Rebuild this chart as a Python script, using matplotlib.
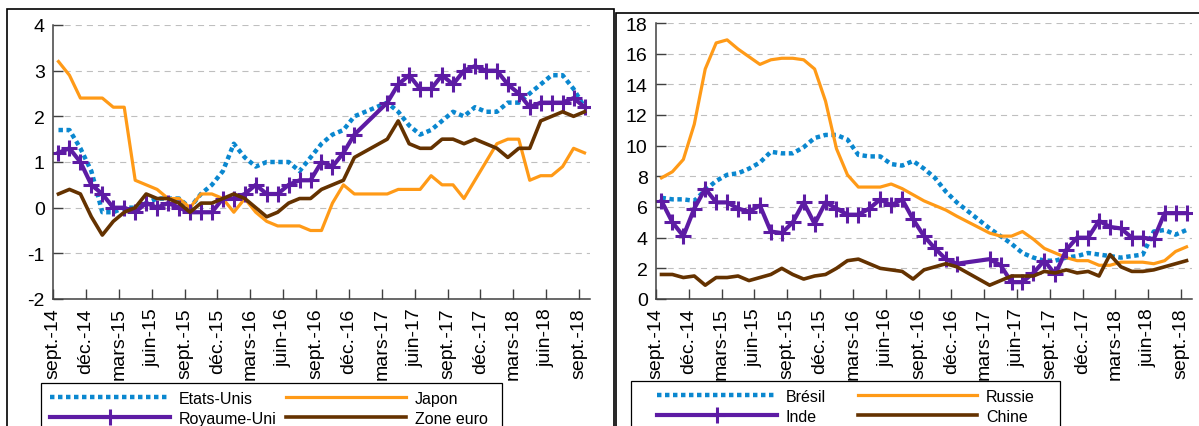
import numpy as np
import matplotlib.pyplot as plt
from matplotlib.patches import Rectangle

plt.rcParams['font.family'] = ['Liberation Sans', 'DejaVu Sans']
plt.rcParams['axes.unicode_minus'] = False

W, H = 1199, 427
nan = np.nan

# ---- données : glissement annuel des prix, sept. 2014 -> sept. 2018 (49 mois) ----
# janv.-17 et févr.-17 absents (la ligne relie déc.-16 à mars-17)
tick_labels = ['sept.-14', 'déc.-14', 'mars-15', 'juin-15', 'sept.-15', 'déc.-15',
               'mars-16', 'juin-16', 'sept.-16', 'déc.-16', 'mars-17', 'juin-17',
               'sept.-17', 'déc.-17', 'mars-18', 'juin-18', 'sept.-18']

etats_unis = [1.7, 1.7, 1.3, 0.8, -0.1, -0.1, 0.0, 0.0, 0.1, 0.2, 0.2, 0.2, 0.0, 0.3,
              0.5, 0.8, 1.4, 1.1, 0.9, 1.0, 1.0, 1.0, 0.8, 1.1, 1.4, 1.6, 1.7, 2.0,
              nan, nan, 2.3, 2.1, 1.8, 1.6, 1.7, 1.9, 2.1, 2.0, 2.2, 2.1, 2.1, 2.3,
              2.3, 2.5, 2.7, 2.9, 2.9, 2.6, 2.2]
japon = [3.2, 2.9, 2.4, 2.4, 2.4, 2.2, 2.2, 0.6, 0.5, 0.4, 0.2, 0.2, 0.0, 0.3,
         0.3, 0.2, -0.1, 0.2, -0.1, -0.3, -0.4, -0.4, -0.4, -0.5, -0.5, 0.1, 0.5, 0.3,
         nan, nan, 0.3, 0.4, 0.4, 0.4, 0.7, 0.5, 0.5, 0.2, 0.6, 1.0, 1.4, 1.5,
         1.5, 0.6, 0.7, 0.7, 0.9, 1.3, 1.2]
royaume_uni = [1.2, 1.3, 1.0, 0.5, 0.3, 0.0, 0.0, -0.1, 0.1, 0.0, 0.1, 0.0, -0.1, -0.1,
               -0.1, 0.2, 0.2, 0.3, 0.5, 0.3, 0.3, 0.5, 0.6, 0.6, 1.0, 0.9, 1.2, 1.6,
               nan, nan, 2.3, 2.7, 2.9, 2.6, 2.6, 2.9, 2.7, 3.0, 3.1, 3.0, 3.0, 2.7,
               2.5, 2.2, 2.3, 2.3, 2.3, 2.4, 2.2]
zone_euro = [0.3, 0.4, 0.3, -0.2, -0.6, -0.3, -0.1, 0.0, 0.3, 0.2, 0.2, 0.1, -0.1, 0.1,
             0.1, 0.2, 0.3, 0.2, 0.0, -0.2, -0.1, 0.1, 0.2, 0.2, 0.4, 0.5, 0.6, 1.1,
             nan, nan, 1.5, 1.9, 1.4, 1.3, 1.3, 1.5, 1.5, 1.4, 1.5, 1.4, 1.3, 1.1,
             1.3, 1.3, 1.9, 2.0, 2.1, 2.0, 2.1]

bresil = [6.6, 6.5, 6.5, 6.4, 7.1, 7.7, 8.1, 8.2, 8.5, 8.9, 9.6, 9.5, 9.5, 9.9,
          10.5, 10.7, 10.7, 10.4, 9.4, 9.3, 9.3, 8.8, 8.7, 9.0, 8.5, 7.9, 7.0, 6.3,
          nan, nan, 4.6, 4.1, 3.6, 3.0, 2.7, 2.5, 2.5, 2.7, 2.8, 3.0, 2.9, 2.8,
          2.7, 2.8, 2.9, 4.4, 4.5, 4.2, 4.5]
russie = [7.9, 8.3, 9.1, 11.4, 15.0, 16.7, 16.9, 16.3, 15.8, 15.3, 15.6, 15.7, 15.7, 15.6,
          15.0, 12.9, 9.8, 8.1, 7.3, 7.3, 7.3, 7.5, 7.2, 6.8, 6.4, 6.1, 5.8, 5.4,
          nan, nan, 4.3, 4.1, 4.1, 4.4, 3.9, 3.3, 3.0, 2.7, 2.5, 2.5, 2.2, 2.2,
          2.4, 2.4, 2.4, 2.3, 2.5, 3.1, 3.4]
inde = [6.4, 5.0, 4.1, 5.9, 7.2, 6.3, 6.3, 5.9, 5.7, 6.1, 4.4, 4.3, 5.0, 6.3,
        4.9, 6.3, 5.9, 5.5, 5.5, 5.9, 6.5, 6.1, 6.5, 5.2, 4.1, 3.3, 2.6, 2.3,
        nan, nan, 2.6, 2.2, 1.1, 1.1, 1.7, 2.5, 1.6, 3.2, 4.0, 4.0, 5.1, 4.7,
        4.6, 4.0, 4.0, 3.9, 5.6, 5.6, 5.6]
chine = [1.6, 1.6, 1.4, 1.5, 0.9, 1.4, 1.4, 1.5, 1.2, 1.4, 1.6, 2.0, 1.6, 1.3,
         1.5, 1.6, 2.0, 2.5, 2.6, 2.3, 2.0, 1.9, 1.8, 1.3, 1.9, 2.1, 2.3, 2.1,
         nan, nan, 0.9, 1.2, 1.5, 1.5, 1.5, 1.8, 1.7, 1.9, 1.7, 1.8, 1.5, 2.9,
         2.1, 1.8, 1.8, 1.9, 2.1, 2.3, 2.5]

BLUE = '#0A87CF'
ORANGE = '#FF9A17'
PURPLE = '#5D1BA4'
BROWN = '#643200'

STYLES = [
    dict(color=BLUE, lw=3.2, linestyle=(0, (1, 0.8)), dash_capstyle='butt'),
    dict(color=ORANGE, lw=2.3),
    dict(color=PURPLE, lw=3.0, marker='+', ms=11, mew=2.2),
    dict(color=BROWN, lw=2.6),
]


def draw_series(ax, values, style):
    y = np.array(values, dtype=float)
    x = np.arange(len(y)) + 0.5
    ok = ~np.isnan(y)
    return ax.plot(x[ok], y[ok], **style)[0]


def style_axes(ax, ymin, ymax, ystep):
    ax.set_xlim(0, 49)
    ax.set_ylim(ymin, ymax)
    ax.set_yticks(np.arange(ymin, ymax + 1, ystep))
    ax.set_xticks(np.arange(0, 49, 3))
    ax.set_xticklabels(tick_labels, rotation=90, fontsize=14)
    ax.tick_params(axis='y', labelsize=14, direction='in', length=7.5, width=1,
                   color='#404040', pad=6)
    ax.tick_params(axis='x', direction='in', length=7.5, width=1, color='#404040', pad=6)
    for side in ['top', 'right']:
        ax.spines[side].set_visible(False)
    for side in ['left', 'bottom']:
        ax.spines[side].set_color('#404040')
        ax.spines[side].set_linewidth(1.1)
    ax.yaxis.grid(True, color='#BFBFBF', linestyle=(0, (5.5, 4.5)), linewidth=0.8)
    ax.set_axisbelow(True)


def add_legend(ax, handles, labels, box_x0, box_x1, box_top, handle_x, colspacing):
    # cadre de la légende (coupé par le bas de l'image)
    fig.add_artist(Rectangle((box_x0 / W, -0.05), (box_x1 - box_x0) / W, 1 - box_top / H + 0.05,
                             transform=fig.transFigure, fill=False, ec='black', lw=0.9))
    leg = ax.legend(handles, labels, ncol=2, loc='upper left',
                    bbox_to_anchor=(handle_x / W, 1 - (box_top + 8) / H),
                    bbox_transform=fig.transFigure,
                    fontsize=11.5, handlelength=7.5, handletextpad=0.55,
                    columnspacing=colspacing, borderpad=0, labelspacing=0.3,
                    borderaxespad=0, frameon=False)
    return leg


fig = plt.figure(figsize=(W / 100, H / 100), dpi=100)

# cadres des deux panneaux
fig.add_artist(Rectangle((7 / W, -0.05), 607 / W, 1 - 10 / H + 0.05, transform=fig.transFigure,
                         fill=False, ec='black', lw=1.2))
fig.add_artist(Rectangle((616 / W, -0.05), 0.6, 1 - 14 / H + 0.05, transform=fig.transFigure,
                         fill=False, ec='black', lw=1.2))

# ---- pays avancés ----
ax1 = fig.add_axes([53 / W, 1 - 300 / H, 537 / W, 274 / H])
h = [draw_series(ax1, s, st) for s, st in zip([etats_unis, japon, royaume_uni, zone_euro], STYLES)]
style_axes(ax1, -2, 4, 1)
add_legend(ax1, [h[0], h[2], h[1], h[3]], ['Etats-Unis', 'Royaume-Uni', 'Japon', 'Zone euro'],
           41, 502, 384, 50, 0.63)

# ---- pays émergents ----
ax2 = fig.add_axes([656 / W, 1 - 300 / H, 536 / W, 276 / H])
h = [draw_series(ax2, s, st) for s, st in zip([bresil, russie, inde, chine], STYLES)]
style_axes(ax2, 0, 18, 2)
add_legend(ax2, [h[0], h[2], h[1], h[3]], ['Brésil', 'Inde', 'Russie', 'Chine'],
           631, 1060, 382, 657, 2.0)

fig.savefig('out.png', dpi=100)
